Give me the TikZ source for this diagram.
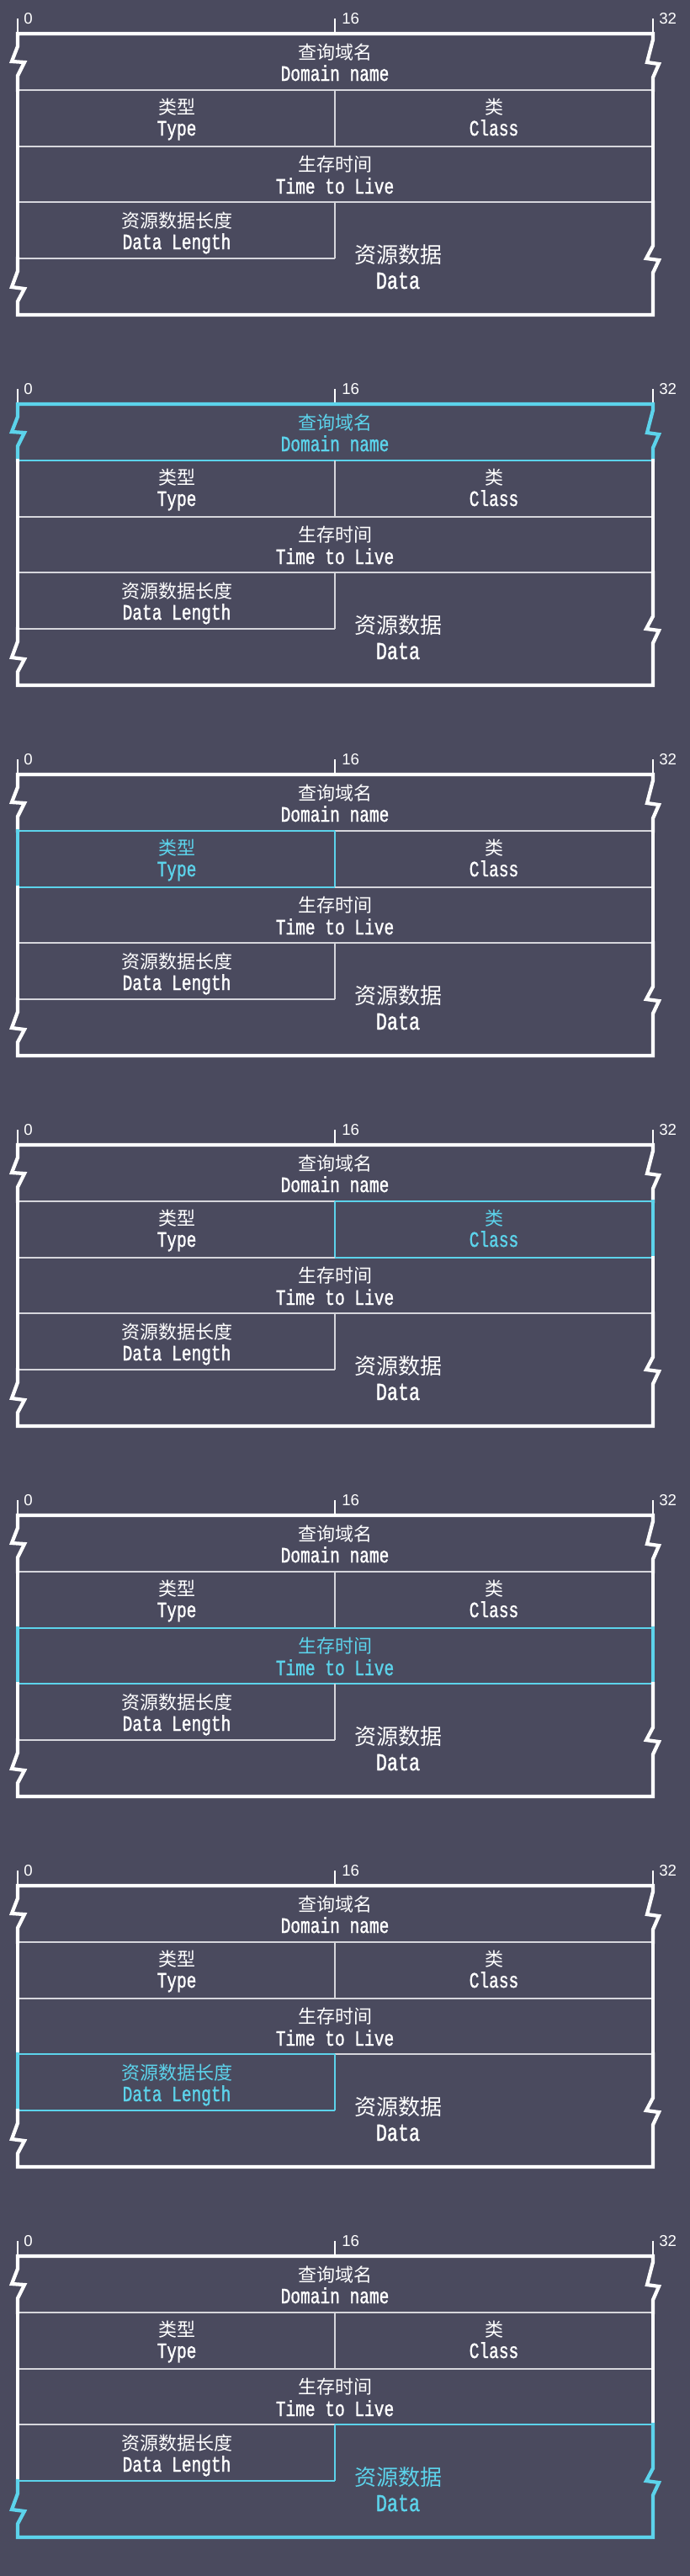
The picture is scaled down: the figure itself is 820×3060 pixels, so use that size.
\documentclass[tikz,border=0pt]{standalone}
\usepackage{fontspec}
\setmainfont{Liberation Sans}
\newfontfamily\zhfont{Noto Sans CJK SC}
\newfontfamily\enfont[FakeStretch=0.75, FakeBold=1.2]{Liberation Mono}
\usepackage{tikz}
\usetikzlibrary{positioning}
\definecolor{bgcol}{HTML}{4A4A5E}
\definecolor{hlcol}{HTML}{5CD3EB}
\definecolor{rulecol}{HTML}{D6D6DC}
\tikzset{
  outerln/.style={color=white, line width=3.2pt, line cap=rect, line join=miter, miter limit=3},
  innerln/.style={color=rulecol, line width=1.2pt},
  tickln/.style={color=white, line width=1.2pt},
  zh/.style={color=white, anchor=base, inner sep=0pt, font=\zhfont\fontsize{16.5}{18}\selectfont},
  en/.style={color=white, anchor=base, inner sep=0pt, font=\enfont\fontsize{19.5}{20}\selectfont},
  bigzh/.style={color=white, anchor=base, inner sep=0pt, font=\zhfont\fontsize{19.5}{21}\selectfont},
  bigen/.style={color=white, anchor=base, inner sep=0pt, font=\enfont\fontsize{21.75}{23}\selectfont},
  bitnum/.style={color=white, anchor=base west, inner sep=0pt, font=\fontsize{14}{15}\selectfont},
  hl/.style={color=hlcol}
}

\begin{document}
\begin{tikzpicture}[x=0.75pt, y=-0.75pt]
\fill[bgcol] (0,0) rectangle (820,3060);
\useasboundingbox (0,0) rectangle (820,3060);
\foreach \k in {0,...,6}{
  % which field is lit in this copy
  \tikzset{dom/.style={}, typ/.style={}, cls/.style={}, ttl/.style={}, len/.style={}, dat/.style={}}
  \ifcase\k\or\tikzset{dom/.style={hl}}\or\tikzset{typ/.style={hl}}\or\tikzset{cls/.style={hl}}\or
    \tikzset{ttl/.style={hl}}\or\tikzset{len/.style={hl}}\or\tikzset{dat/.style={hl}}\fi
  \begin{scope}[shift={(0,440*\k)}]
    % bit ruler
    \draw[tickln] (21,22) -- (21,40);
    \draw[tickln] (398,22) -- (398,40);
    \draw[tickln] (776,22) -- (776,40);
    \node[bitnum] (b0\k) at (28,28) {0};
    \node[bitnum] (b16\k) at (406,28) {16};
    \node[bitnum] (b32\k) at (783,28) {32};
    % inner rules
    \draw[innerln, dom, typ] (21,107) -- (398,107);
    \draw[innerln, dom, cls] (398,107) -- (776,107);
    \draw[innerln, typ, cls] (398,107) -- (398,174);
    \draw[innerln, typ, ttl] (21,174) -- (398,174);
    \draw[innerln, cls, ttl] (398,174) -- (776,174);
    \draw[innerln, ttl, len] (21,240) -- (398,240);
    \draw[innerln, ttl, dat] (398,240) -- (776,240);
    \draw[innerln, len, dat] (398,240) -- (398,307);
    \draw[innerln, len, dat] (21,307) -- (398,307);
    % outer frame
    \draw[outerln, dom] (21,107) -- (21,90) -- (29,74) -- (14,73) -- (21,55) -- (21,40) -- (776,40)
                        -- (776,47) -- (769,74) -- (783,76) -- (776,92) -- (776,107);
    \draw[outerln, typ] (21,107) -- (21,174);
    \draw[outerln, cls] (776,107) -- (776,174);
    \draw[outerln, ttl] (21,174) -- (21,240);
    \draw[outerln, ttl] (776,174) -- (776,240);
    \draw[outerln, len] (21,240) -- (21,307);
    \draw[outerln, dat] (21,307) -- (21,322) -- (14,341) -- (29,343) -- (21,358) -- (21,374) -- (776,374)
                        -- (776,324) -- (783,309) -- (768,307) -- (776,292) -- (776,240);
    % field names
    \node[zh, dom] (dom\k) at (398,70) {查询域名};
    \node[en, dom] (domen\k) at (398,96) {Domain name};
    \node[zh, typ] (typ\k) at (210,135) {类型};
    \node[en, typ] (typen\k) at (210,161) {Type};
    \node[zh, cls] (cls\k) at (587,135) {类};
    \node[en, cls] (clsen\k) at (587,161) {Class};
    \node[zh, ttl] (ttl\k) at (398,203) {生存时间};
    \node[en, ttl] (ttlen\k) at (398,230) {Time to Live};
    \node[zh, len] (len\k) at (210,270) {资源数据长度};
    \node[en, len] (lenen\k) at (210,296) {Data Length};
    \node[bigzh, dat] (dat\k) at (473,312) {资源数据};
    \node[bigen, dat] (daten\k) at (473,343) {Data};
  \end{scope}
}
\end{tikzpicture}
\end{document}
